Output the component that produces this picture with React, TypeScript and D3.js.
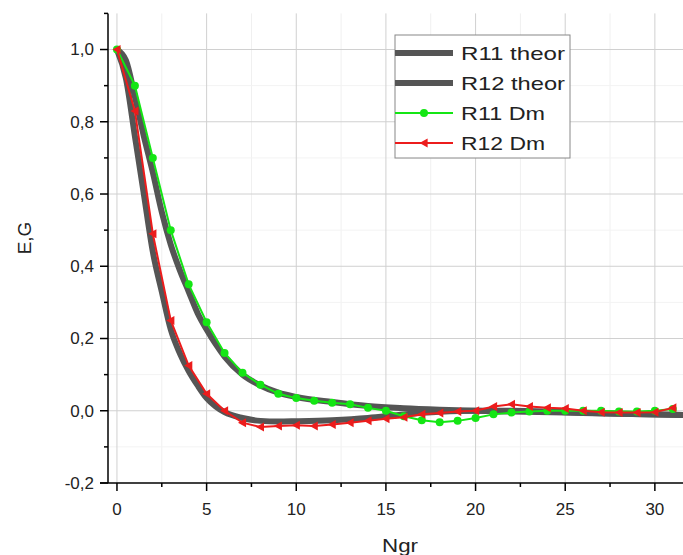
import React from "react";
import * as d3 from "d3";

// measured points, Ngr = 0..31
const ngrDm = d3.range(0, 32);
const r11Dm = [1.0, 0.9, 0.7, 0.5, 0.35, 0.245, 0.16, 0.105, 0.072, 0.047, 0.035, 0.028, 0.022, 0.018, 0.008, 0.0,
  -0.015, -0.026, -0.032, -0.028, -0.02, -0.01, -0.005, -0.002, 0.0, 0.0, 0.0, 0.0, -0.002, -0.002, 0.0, 0.005];
const r12Dm = [1.0, 0.83, 0.49, 0.25, 0.125, 0.047, 0.0, -0.033, -0.045, -0.042, -0.04, -0.042, -0.038, -0.033, -0.028, -0.022,
  -0.018, -0.01, -0.006, -0.002, 0.0, 0.012, 0.018, 0.012, 0.008, 0.006, 0.0, -0.004, -0.005, -0.005, -0.004, 0.008];

// theoretical curves
const ngrTheor = [0, 0.5, 1, 1.5, 2, 2.5, 3, 3.5, 4, 4.5, 5, 5.5, 6, 7, 8, 9, 10, 12, 14, 16, 18, 20, 22, 25, 28, 31.8];
const r11Theor = [1.0, 0.97, 0.87, 0.76, 0.66, 0.55, 0.46, 0.39, 0.33, 0.27, 0.225, 0.185, 0.15, 0.1, 0.07, 0.05, 0.038,
  0.024, 0.013, 0.007, 0.003, 0.0, -0.002, -0.005, -0.008, -0.012];
const r12Theor = [1.0, 0.92, 0.76, 0.6, 0.44, 0.33, 0.225, 0.16, 0.11, 0.07, 0.035, 0.012, -0.004, -0.02, -0.028, -0.03,
  -0.029, -0.026, -0.02, -0.01, -0.003, 0.0, 0.0, -0.004, -0.008, -0.012];

const xTicks = [0, 5, 10, 15, 20, 25, 30];
const yTicks = [-0.2, 0, 0.2, 0.4, 0.6, 0.8, 1.0];
const legendItems = ["R11 theor", "R12 theor", "R11 Dm", "R12 Dm"];

const W = 683;
const H = 555;
const GREEN = "#14e614";
const RED = "#ec1c1c";
const GRAY = "#555555";
const font = "Arial, 'Liberation Sans', sans-serif";

const x = d3.scaleLinear().domain([-0.5, 31.6]).range([108, 108 + 32.1 * 17.93]);
const y = d3.scaleLinear().domain([-0.2, 1.1]).range([483, 13.4]);

const fmt = (v: number) => d3.format(".1f")(v).replace(".", ",").replace("−", "-");

function tri(cx: number, cy: number, s: number) {
  // left-pointing triangle
  return `M${cx - s},${cy} L${cx + s * 0.8},${cy - s} L${cx + s * 0.8},${cy + s} Z`;
}

export default function App() {
  const line = d3.line<[number, number]>().x((d) => x(d[0])).y((d) => y(d[1]));
  const smooth = d3
    .line<[number, number]>()
    .x((d) => x(d[0]))
    .y((d) => y(d[1]))
    .curve(d3.curveMonotoneX);

  const t11 = ngrTheor.map((n, i) => [n, r11Theor[i]] as [number, number]);
  const t12 = ngrTheor.map((n, i) => [n, r12Theor[i]] as [number, number]);
  const d11 = ngrDm.map((n, i) => [n, r11Dm[i]] as [number, number]);
  const d12 = ngrDm.map((n, i) => [n, r12Dm[i]] as [number, number]);

  const x0 = 108;
  const yBottom = 483;
  const yTop = 13.4;
  const minorX = d3.range(2.5, 32, 5);
  const minorY = [-0.1, 0.1, 0.3, 0.5, 0.7, 0.9];

  const lgX = 395;
  const lgY = 35;
  const rowH = 30;

  return (
    <svg width={W} height={H} style={{ position: "absolute", left: 0, top: 0, background: "#fff" }} fontFamily={font}>
      <rect x={0} y={0} width={W} height={H} fill="#fff" />
      {/* grid */}
      {minorX.map((v) => (
        <line key={"mx" + v} x1={x(v)} x2={x(v)} y1={yTop} y2={yBottom} stroke="#f0f0f0" strokeWidth={1} />
      ))}
      {minorY.map((v) => (
        <line key={"my" + v} x1={x0} x2={W} y1={y(v)} y2={y(v)} stroke="#f3f3f3" strokeWidth={1} />
      ))}
      {xTicks.map((v) => (
        <line key={"gx" + v} x1={x(v)} x2={x(v)} y1={yTop} y2={yBottom} stroke="#d0d0d0" strokeWidth={1} />
      ))}
      {yTicks.slice(1).map((v) => (
        <line key={"gy" + v} x1={x0} x2={W} y1={y(v)} y2={y(v)} stroke="#d0d0d0" strokeWidth={1} />
      ))}

      {/* theoretical curves */}
      <path d={smooth(t11) || ""} fill="none" stroke={GRAY} strokeWidth={6} strokeLinejoin="round" />
      <path d={smooth(t12) || ""} fill="none" stroke={GRAY} strokeWidth={6} strokeLinejoin="round" />

      {/* measured */}
      <path d={line(d11) || ""} fill="none" stroke={GREEN} strokeWidth={2} />
      {d11.map((d, i) => (
        <circle key={"g" + i} cx={x(d[0])} cy={y(d[1])} r={4} fill={GREEN} />
      ))}
      <path d={line(d12) || ""} fill="none" stroke={RED} strokeWidth={2} />
      {d12.map((d, i) => (
        <path key={"r" + i} d={tri(x(d[0]), y(d[1]), 4.5)} fill={RED} />
      ))}

      {/* axes */}
      <line x1={x0} x2={x0} y1={yTop} y2={yBottom} stroke="#000" strokeWidth={1.5} />
      <line x1={x0 - 4} x2={x0} y1={yTop} y2={yTop} stroke="#000" strokeWidth={1.5} />
      <line x1={x0 - 8} x2={W} y1={yBottom} y2={yBottom} stroke="#000" strokeWidth={1.5} />
      {yTicks.map((v) => (
        <g key={"yt" + v}>
          <line x1={x0 - 8} x2={x0} y1={y(v)} y2={y(v)} stroke="#000" strokeWidth={1.5} />
          <text x={94} y={y(v)} dy="0.35em" textAnchor="end" fontSize={17} fill="#222">
            {fmt(v)}
          </text>
        </g>
      ))}
      {minorY.map((v) => (
        <line key={"ymt" + v} x1={x0 - 4} x2={x0} y1={y(v)} y2={y(v)} stroke="#000" strokeWidth={1.5} />
      ))}
      {xTicks.map((v) => (
        <g key={"xt" + v}>
          <line x1={x(v)} x2={x(v)} y1={yBottom} y2={yBottom + 8} stroke="#000" strokeWidth={1.5} />
          <text x={x(v)} y={509} dy="0.35em" textAnchor="middle" fontSize={17} fill="#222">
            {v}
          </text>
        </g>
      ))}
      {minorX.map((v) => (
        <line key={"xmt" + v} x1={x(v)} x2={x(v)} y1={yBottom} y2={yBottom + 4} stroke="#000" strokeWidth={1.5} />
      ))}
      <text x={400} y={545} dy="0.35em" textAnchor="middle" fontSize={19} fill="#222" textLength={36} lengthAdjust="spacingAndGlyphs">
        Ngr
      </text>
      <text transform="translate(24,238) rotate(-90)" dy="0.35em" textAnchor="middle" fontSize={19} fill="#222">
        E,G
      </text>

      {/* legend */}
      <rect x={lgX} y={lgY} width={175} height={123} fill="#fff" stroke="#888" strokeWidth={1} />
      {legendItems.map((name, i) => {
        const cy = lgY + 18 + i * rowH;
        return (
          <g key={name}>
            {i < 2 && <line x1={lgX} x2={lgX + 58} y1={cy} y2={cy} stroke={GRAY} strokeWidth={6} />}
            {i === 2 && (
              <>
                <line x1={lgX} x2={lgX + 58} y1={cy} y2={cy} stroke={GREEN} strokeWidth={2} />
                <circle cx={lgX + 29} cy={cy} r={4} fill={GREEN} />
              </>
            )}
            {i === 3 && (
              <>
                <line x1={lgX} x2={lgX + 58} y1={cy} y2={cy} stroke={RED} strokeWidth={2} />
                <path d={tri(lgX + 29, cy, 4.5)} fill={RED} />
              </>
            )}
            <text x={lgX + 66} y={cy} dy="0.35em" fontSize={19} fill="#222"
              textLength={i < 2 ? 104 : 84} lengthAdjust="spacingAndGlyphs">
              {name}
            </text>
          </g>
        );
      })}
    </svg>
  );
}
